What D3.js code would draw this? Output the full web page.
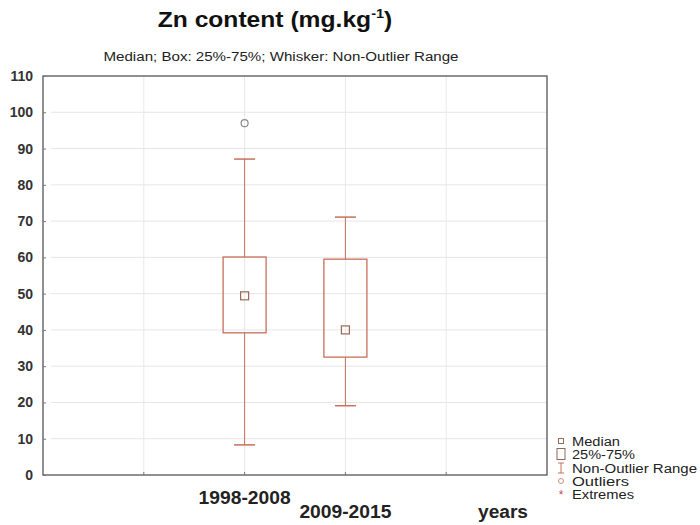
<!DOCTYPE html>
<html>
<head>
<meta charset="utf-8">
<script src="https://cdn.jsdelivr.net/npm/d3@7"></script>
<style>
  html, body { margin: 0; padding: 0; background: #fff; }
  svg { display: block; font-family: "Liberation Sans", Arial, sans-serif; }
</style>
</head>
<body>
<svg id="chart" width="700" height="525"></svg>
<script>
// Zn content by period: box-and-whisker summary
const categories = ["1998-2008", "2009-2015"];
const q1Values = [39.2, 32.5];
const medianValues = [49.4, 40.0];
const q3Values = [60.1, 59.5];
const whiskerLow = [8.3, 19.1];
const whiskerHigh = [87.1, 71.1];
const outliers = [[97.0], []];
const yTicks = [0, 10, 20, 30, 40, 50, 60, 70, 80, 90, 100, 110];
const legendItems = ["Median", "25%-75%", "Non-Outlier Range", "Outliers", "Extremes"];

const svg = d3.select("#chart");
const m = { left: 43, right: 547, top: 76, bottom: 475 };
const boxColor = "#c8705a";
const medianColor = "#9a6a55";
const outlierColor = "#8f8a88";

const y = d3.scaleLinear().domain([0, 110]).range([m.bottom, m.top]);
const x = d3.scalePoint().domain(categories).range([m.left, m.right]).padding(2);
const step = x.step();
// vertical grid positions: one step before, the categories, one step after
const gridX = [-1, 0, 1, 2].map(i => x(categories[0]) + i * step);

// horizontal grid
svg.append("g").selectAll("line").data(yTicks.slice(1, -1)).join("line")
  .attr("x1", m.left + 8).attr("x2", m.right)
  .attr("y1", d => y(d)).attr("y2", d => y(d))
  .attr("stroke", "#e6e6e6").attr("stroke-width", 1);
// vertical grid
svg.append("g").selectAll("line").data(gridX).join("line")
  .attr("x1", d => d).attr("x2", d => d)
  .attr("y1", m.top).attr("y2", m.bottom)
  .attr("stroke", "#e8e8e8").attr("stroke-width", 1);

// frame
svg.append("rect")
  .attr("x", m.left).attr("y", m.top)
  .attr("width", m.right - m.left).attr("height", m.bottom - m.top)
  .attr("fill", "none").attr("stroke", "#555").attr("stroke-width", 1.3);

// y axis
const yAxis = d3.axisLeft(y).tickValues(yTicks).tickSize(-3).tickPadding(10).tickFormat(d3.format("d"));
const gy = svg.append("g").attr("transform", `translate(${m.left},0)`).call(yAxis);
gy.select(".domain").remove();
gy.selectAll(".tick line").attr("stroke", "#777");
gy.selectAll("text").attr("font-size", 14).attr("font-weight", "bold").attr("fill", "#333");

// bottom ticks
svg.append("g").selectAll("line").data(gridX).join("line")
  .attr("x1", d => d).attr("x2", d => d)
  .attr("y1", m.bottom).attr("y2", m.bottom - 3)
  .attr("stroke", "#777");

// category labels (staggered)
svg.append("g").selectAll("text").data(categories).join("text")
  .attr("x", d => x(d))
  .attr("y", (d, i) => i % 2 === 0 ? 504 : 518)
  .attr("text-anchor", "middle")
  .attr("font-size", 18).attr("font-weight", "bold").attr("fill", "#222")
  .attr("textLength", 92).attr("lengthAdjust", "spacingAndGlyphs")
  .text(d => d);
svg.append("text").attr("x", 503).attr("y", 518).attr("text-anchor", "middle")
  .attr("font-size", 18).attr("font-weight", "bold").attr("fill", "#222")
  .attr("textLength", 50).attr("lengthAdjust", "spacingAndGlyphs").text("years");

// boxes
const boxW = 43, capW = 21, medS = 8;
const g = svg.append("g").selectAll("g").data(categories).join("g");
g.append("line")
  .attr("x1", d => x(d)).attr("x2", d => x(d))
  .attr("y1", (d, i) => y(whiskerHigh[i])).attr("y2", (d, i) => y(q3Values[i]))
  .attr("stroke", boxColor);
g.append("line")
  .attr("x1", d => x(d)).attr("x2", d => x(d))
  .attr("y1", (d, i) => y(q1Values[i])).attr("y2", (d, i) => y(whiskerLow[i]))
  .attr("stroke", boxColor);
g.append("line")
  .attr("x1", d => x(d) - capW / 2).attr("x2", d => x(d) + capW / 2)
  .attr("y1", (d, i) => y(whiskerHigh[i])).attr("y2", (d, i) => y(whiskerHigh[i]))
  .attr("stroke", boxColor).attr("stroke-width", 1.5);
g.append("line")
  .attr("x1", d => x(d) - capW / 2).attr("x2", d => x(d) + capW / 2)
  .attr("y1", (d, i) => y(whiskerLow[i])).attr("y2", (d, i) => y(whiskerLow[i]))
  .attr("stroke", boxColor).attr("stroke-width", 1.5);
g.append("rect")
  .attr("x", d => x(d) - boxW / 2).attr("width", boxW)
  .attr("y", (d, i) => y(q3Values[i]))
  .attr("height", (d, i) => y(q1Values[i]) - y(q3Values[i]))
  .attr("fill", "none").attr("stroke", boxColor).attr("stroke-width", 1.3);
g.append("rect")
  .attr("x", d => x(d) - medS / 2).attr("width", medS)
  .attr("y", (d, i) => y(medianValues[i]) - medS / 2).attr("height", medS)
  .attr("fill", "none").attr("stroke", medianColor).attr("stroke-width", 1.2);
g.each(function (d, i) {
  d3.select(this).selectAll("circle").data(outliers[i]).join("circle")
    .attr("cx", x(d)).attr("cy", v => y(v)).attr("r", 3.5)
    .attr("fill", "none").attr("stroke", outlierColor).attr("stroke-width", 1.2);
});

// titles
const title = svg.append("g").attr("transform", "translate(275,27) scale(1.12,1)")
  .append("text").attr("x", 0).attr("y", 0).attr("text-anchor", "middle")
  .attr("font-size", 22).attr("font-weight", "bold").attr("fill", "#111");
title.append("tspan").text("Zn content (mg.kg");
title.append("tspan").attr("dy", -9).attr("font-size", 13).text("-1");
title.append("tspan").attr("dy", 9).text(")");
svg.append("text").attr("x", 281).attr("y", 61).attr("text-anchor", "middle")
  .attr("font-size", 12).attr("fill", "#222")
  .attr("textLength", 355).attr("lengthAdjust", "spacingAndGlyphs")
  .text("Median; Box: 25%-75%; Whisker: Non-Outlier Range");

// legend
const lg = svg.append("g").attr("transform", "translate(561,0)");
const ly = [441, 454, 468, 481, 494];
const lw = [48, 63, 125, 57, 62];
lg.selectAll("text").data(legendItems).join("text")
  .attr("x", 11).attr("y", (d, i) => ly[i] + 4.5)
  .attr("font-size", 12).attr("fill", "#222")
  .attr("textLength", (d, i) => lw[i]).attr("lengthAdjust", "spacingAndGlyphs")
  .text(d => d);
lg.append("rect").attr("x", -2.5).attr("y", ly[0] - 2.5).attr("width", 5).attr("height", 5)
  .attr("fill", "none").attr("stroke", medianColor);
lg.append("rect").attr("x", -4).attr("y", ly[1] - 5.5).attr("width", 8).attr("height", 11)
  .attr("fill", "none").attr("stroke", "#8a6a60");
lg.append("path").attr("d", `M-3,${ly[2] - 5}H3M0,${ly[2] - 5}V${ly[2] + 5}M-3,${ly[2] + 5}H3`)
  .attr("fill", "none").attr("stroke", boxColor);
lg.append("circle").attr("cx", 0).attr("cy", ly[3]).attr("r", 2.5)
  .attr("fill", "none").attr("stroke", "#c9907a");
lg.append("text").attr("x", 0).attr("y", ly[4] + 5).attr("text-anchor", "middle")
  .attr("font-size", 12).attr("fill", "#c44a5a").text("*");
</script>
</body>
</html>
